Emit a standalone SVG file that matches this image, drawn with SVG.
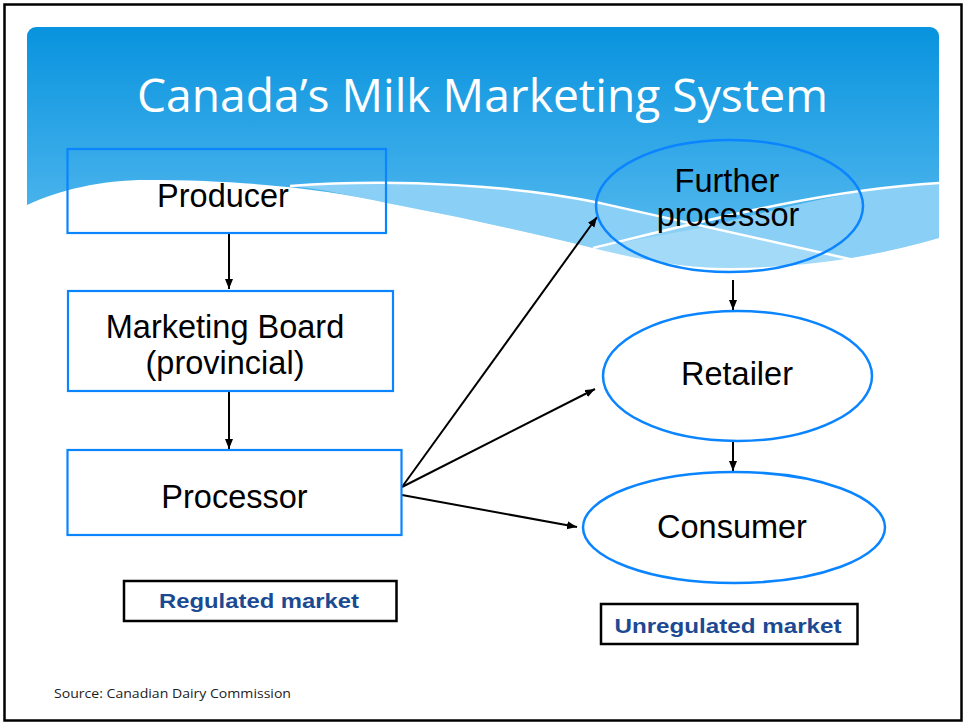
<svg xmlns="http://www.w3.org/2000/svg" width="965" height="724" viewBox="0 0 965 724">
  <defs>
    <linearGradient id="hdr" x1="0" y1="27" x2="0" y2="270" gradientUnits="userSpaceOnUse">
      <stop offset="0" stop-color="#0893de"/>
      <stop offset="1" stop-color="#5fbef1"/>
    </linearGradient>
    <marker id="ah" markerUnits="userSpaceOnUse" markerWidth="12" markerHeight="10" refX="10" refY="4" orient="auto">
      <path d="M0,0 L10,4 L0,8 Z" fill="#000"/>
    </marker>
    <style>
      .box { fill: none; stroke: #0a84ff; stroke-width: 2.2; }
      .ell { fill: none; stroke: #0a84ff; stroke-width: 2.5; }
      .lbl { font-family: "Liberation Sans", Arial, sans-serif; font-size: 32.5px; fill: #000; text-anchor: middle; }
      .mk { fill: #fff; stroke: #000; stroke-width: 2.5; }
      .mkt { font-family: "Liberation Sans", Arial, sans-serif; font-size: 21px; font-weight: bold; fill: #1c4a92; text-anchor: middle; }
      .con { fill: none; stroke: #000; stroke-width: 2; marker-end: url(#ah); }
      .wl { fill: none; stroke: #fff; stroke-width: 2.5; }
    </style>
  </defs>
  <rect x="0" y="0" width="965" height="724" fill="#fff"/>
  <rect x="4.5" y="4.5" width="957" height="716" fill="none" stroke="#000" stroke-width="2.5"/>

  <!-- header -->
  <g id="header">
    <rect x="27" y="27" width="912" height="255" rx="9" fill="url(#hdr)"/>
    <path d="M290,186 C400,178 520,186 600,203 C640,212 675,220 706,227 C790,206 860,187 939,183 L939,238 C870,258 800,268 730,268 C690,268 650,262 593,248 C530,232 450,215 387,203 C350,195 320,189 290,186 Z" fill="#8acff6"/>
    <path d="M593,248 C630,240 670,234 706,227 C760,240 810,250 863,262 C820,267 770,268 730,268 C690,268 650,262 593,248 Z" fill="#a3daf8"/>
    <path d="M27,205 C60,190 100,180 147,180 C250,180 330,190 387,203 C450,215 530,232 593,248 C650,262 690,268 730,268 C800,268 870,258 939,238 L939,290 L27,290 Z" fill="#fff"/>
    <path class="wl" d="M290,186 C400,178 520,186 600,203 C700,225 800,248 863,262"/>
    <path class="wl" d="M593,248 C700,222 820,190 939,183"/>
    <text x="482.5" y="112" font-family="'Open Sans', 'Noto Sans', sans-serif" font-size="46" fill="#fff" text-anchor="middle" textLength="691" lengthAdjust="spacingAndGlyphs">Canada’s Milk Marketing System</text>
  </g>

  <!-- connectors -->
  <g id="connectors">
    <path class="con" d="M229,234 L229,289"/>
    <path class="con" d="M229,391 L229,449"/>
    <path class="con" d="M402,487 L597,217"/>
    <path class="con" d="M402,487 L595,389"/>
    <path class="con" d="M402,495 L577,527"/>
    <path class="con" d="M733,280 L733,310"/>
    <path class="con" d="M733,442 L733,471"/>
  </g>

  <g id="producer">
    <rect class="box" x="67.5" y="149" width="318.5" height="84"/>
    <text class="lbl" x="223" y="207">Producer</text>
  </g>
  <g id="marketing-board">
    <rect class="box" x="68" y="291" width="325" height="100"/>
    <text class="lbl" x="225" y="338">Marketing Board</text>
    <text class="lbl" x="225" y="374">(provincial)</text>
  </g>
  <g id="processor">
    <rect class="box" x="67.5" y="450" width="334" height="85"/>
    <text class="lbl" x="234.5" y="508">Processor</text>
  </g>
  <g id="further-processor">
    <ellipse class="ell" cx="729.5" cy="206" rx="133.5" ry="66"/>
    <text class="lbl" x="727" y="192">Further</text>
    <text class="lbl" x="728" y="226">processor</text>
  </g>
  <g id="retailer">
    <ellipse class="ell" cx="737.5" cy="376" rx="134.5" ry="65"/>
    <text class="lbl" x="737" y="385">Retailer</text>
  </g>
  <g id="consumer">
    <ellipse class="ell" cx="734" cy="527.5" rx="151" ry="55.5"/>
    <text class="lbl" x="732" y="538">Consumer</text>
  </g>

  <g id="regulated-market">
    <rect class="mk" x="124" y="581" width="272.5" height="40"/>
    <text class="mkt" x="259" y="608" textLength="200" lengthAdjust="spacingAndGlyphs">Regulated market</text>
  </g>
  <g id="unregulated-market">
    <rect class="mk" x="601" y="604" width="256.5" height="40"/>
    <text class="mkt" x="728" y="633" textLength="227" lengthAdjust="spacingAndGlyphs">Unregulated market</text>
  </g>

  <g id="source">
    <text x="54" y="698" font-family="'Open Sans', 'Liberation Sans', sans-serif" font-size="13" fill="#222" textLength="237" lengthAdjust="spacingAndGlyphs">Source: Canadian Dairy Commission</text>
  </g>
</svg>
